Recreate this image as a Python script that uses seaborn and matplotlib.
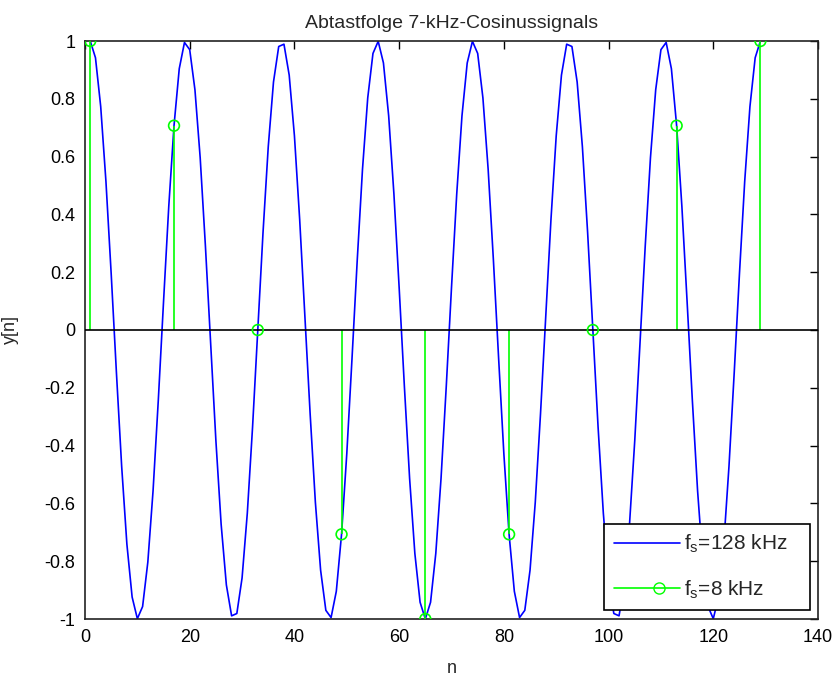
import matplotlib
matplotlib.use('Agg')
import matplotlib.pyplot as plt
import seaborn as sns
import pandas as pd
from matplotlib.lines import Line2D
from matplotlib.legend_handler import HandlerLine2D

# Blue curve: 7 kHz cosine sampled at 128 kHz, n = 1..129
n_fine = list(range(1, 130))
y_fine = [
    1.000, 0.942, 0.773, 0.514, 0.195, -0.147, -0.471, -0.741, -0.924, -0.999,
    -0.957, -0.803, -0.556, -0.243, 0.098, 0.428, 0.707, 0.904, 0.995, 0.970,
    0.831, 0.596, 0.290, -0.049, -0.383, -0.672, -0.882, -0.989, -0.981, -0.858,
    -0.634, -0.337, 0.000, 0.337, 0.634, 0.858, 0.981, 0.989, 0.882, 0.672,
    0.383, 0.049, -0.290, -0.596, -0.831, -0.970, -0.995, -0.904, -0.707, -0.428,
    -0.098, 0.243, 0.556, 0.803, 0.957, 0.999, 0.924, 0.741, 0.471, 0.147,
    -0.195, -0.514, -0.773, -0.942, -1.000,
    -0.942, -0.773, -0.514, -0.195, 0.147, 0.471, 0.741, 0.924, 0.999, 0.957,
    0.803, 0.556, 0.243, -0.098, -0.428, -0.707, -0.904, -0.995, -0.970, -0.831,
    -0.596, -0.290, 0.049, 0.383, 0.672, 0.882, 0.989, 0.981, 0.858, 0.634,
    0.337, 0.000, -0.337, -0.634, -0.858, -0.981, -0.989, -0.882, -0.672, -0.383,
    -0.049, 0.290, 0.596, 0.831, 0.970, 0.995, 0.904, 0.707, 0.428, 0.098,
    -0.243, -0.556, -0.803, -0.957, -0.999, -0.924, -0.741, -0.471, -0.147, 0.195,
    0.514, 0.773, 0.942, 1.000,
]

# Green stems: samples at 8 kHz
n_stem = [1, 17, 33, 49, 65, 81, 97, 113, 129]
y_stem = [1.0, 0.707, 0.0, -0.707, -1.0, -0.707, 0.0, 0.707, 1.0]

x_ticks = [0, 20, 40, 60, 80, 100, 120, 140]
y_ticks = [-1, -0.8, -0.6, -0.4, -0.2, 0, 0.2, 0.4, 0.6, 0.8, 1]
y_ticklabels = ['-1', '-0.8', '-0.6', '-0.4', '-0.2', '0', '0.2', '0.4', '0.6', '0.8', '1']

sns.set_style('white')
plt.rcParams['font.family'] = ['Liberation Sans', 'DejaVu Sans']
plt.rcParams['mathtext.fontset'] = 'custom'
plt.rcParams['mathtext.rm'] = 'Liberation Sans'
plt.rcParams['mathtext.it'] = 'Liberation Sans'

blue = '#0000ff'
green = '#00ff00'


class EndMarkerHandler(HandlerLine2D):
    # move the single legend marker towards the right end of the line, like MATLAB
    def create_artists(self, legend, orig_handle, xdescent, ydescent,
                       width, height, fontsize, trans):
        artists = super().create_artists(legend, orig_handle, xdescent, ydescent,
                                         width, height, fontsize, trans)
        line = artists[0]
        xd = list(line.get_xdata())
        if len(xd) == 3:
            xd[1] = xd[0] + (xd[2] - xd[0]) * 0.68
            line.set_xdata(xd)
        return artists


fig = plt.figure(figsize=(8.35, 6.77), dpi=100)
ax = fig.add_axes([85 / 835, 1 - 619 / 677, (818 - 85) / 835, (619 - 41) / 677])

fine = pd.DataFrame({'n': n_fine, 'y': y_fine})
sns.lineplot(data=fine, x='n', y='y', color=blue, linewidth=1.2, ax=ax, zorder=2)

ax.vlines(n_stem, 0, y_stem, colors=green, linewidth=1.2, zorder=3)
stem = pd.DataFrame({'n': n_stem, 'y': y_stem})
sns.scatterplot(data=stem, x='n', y='y', marker='o', s=60, facecolor='none',
                edgecolor=green, linewidth=1.2, ax=ax, zorder=4)
ax.axhline(0, color='black', linewidth=1.2, zorder=3)

ax.set_xlim(0, 140)
ax.set_ylim(-1, 1)
ax.set_xticks(x_ticks)
ax.set_yticks(y_ticks)
ax.set_yticklabels(y_ticklabels)
ax.tick_params(direction='in', length=6, width=1, labelsize=13, colors='black',
               top=True, right=True, pad=7)
for side in ax.spines.values():
    side.set_color('#222222')
    side.set_linewidth(1.2)

ax.set_title('Abtastfolge 7-kHz-Cosinussignals', fontsize=14, pad=9)
ax.set_xlabel('n', fontsize=13, labelpad=10)
ax.set_ylabel('y[n]', fontsize=13, labelpad=18)

handles = [
    Line2D([], [], color=blue, linewidth=1.2),
    Line2D([], [], color=green, linewidth=1.2, marker='o', markersize=8,
           markerfacecolor='none'),
]
labels = [r'f$_\mathrm{s}$=128 kHz   ', r'f$_\mathrm{s}$=8 kHz']
leg = ax.legend(handles, labels, loc='lower right', bbox_to_anchor=(0.989, 0.0156),
                fontsize=15, handlelength=3.2, handletextpad=0.2, labelspacing=1.1,
                borderpad=0.45, borderaxespad=0, fancybox=False, framealpha=1,
                edgecolor='black', numpoints=1,
                handler_map={Line2D: EndMarkerHandler()})
leg.get_frame().set_linewidth(1.2)

fig.savefig('out.png', dpi=100)
